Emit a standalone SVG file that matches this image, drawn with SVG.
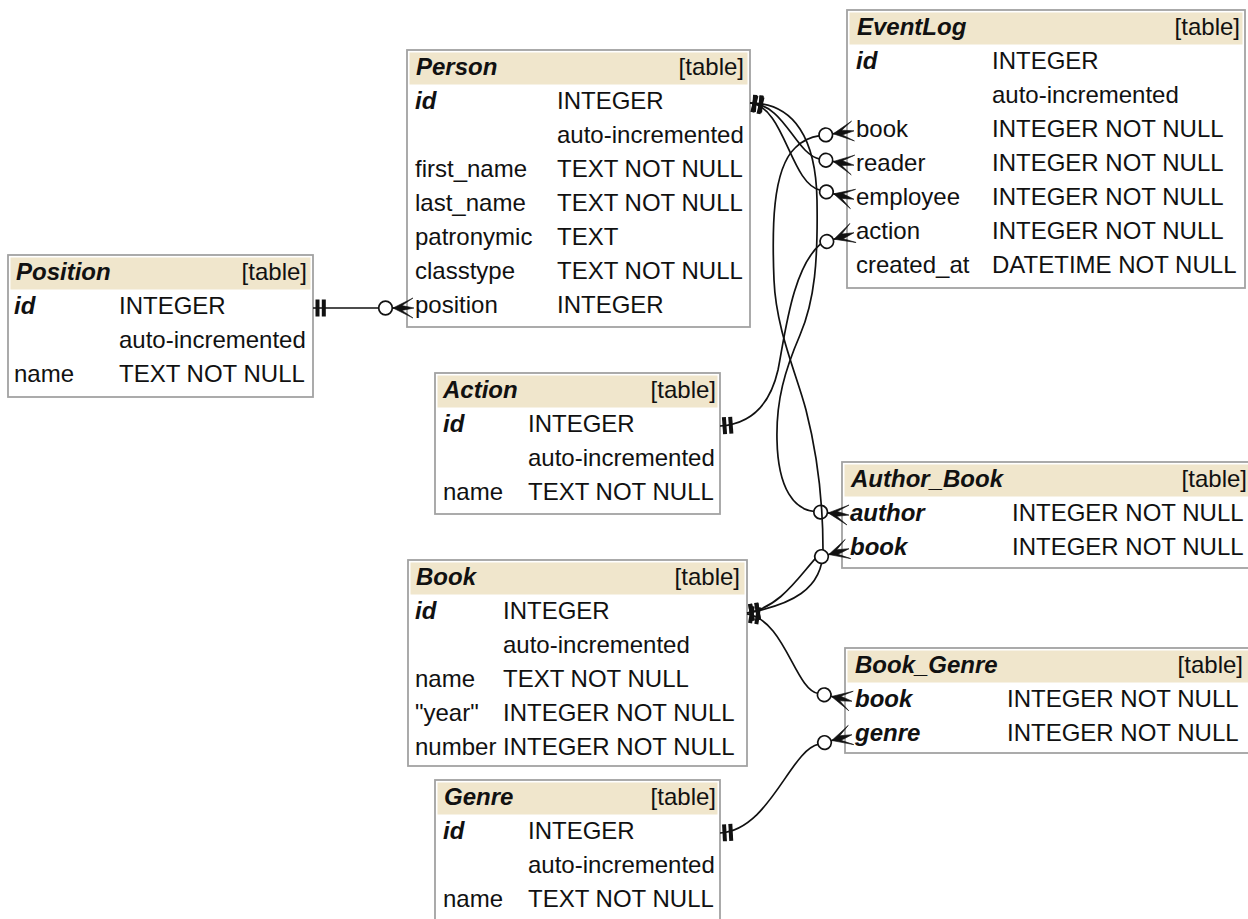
<svg xmlns="http://www.w3.org/2000/svg" xmlns:xlink="http://www.w3.org/1999/xlink" width="1248" height="919" viewBox="0 0 1248 919">
  <style>
    .box { fill: #ffffff; stroke: #a2a2a2; stroke-width: 1.8; }
    .hdr { fill: #f0e6cc; }
    .t { font-family: "Liberation Sans", Arial, Helvetica, sans-serif; font-size: 24px; fill: #111111; }
    .k { font-weight: bold; font-style: italic; }
    .r { text-anchor: end; }
    .edge { fill: none; stroke: #111111; stroke-width: 1.7; }
  </style>
  <defs>
    <!-- zero-or-many end: open circle plus crow's foot, tip at origin pointing +x -->
    <g id="crow">
      <line x1="-21" y1="0" x2="-16" y2="0" stroke="#111111" stroke-width="1.7"/>
      <polygon points="-20,0 0,-10 -11,-2.4 1,0 -11,2.4 0,10" fill="#111111" stroke="#111111" stroke-width="0.6" stroke-linejoin="miter"/>
      <circle cx="-27.5" cy="0" r="6.8" fill="#ffffff" stroke="#111111" stroke-width="1.7"/>
    </g>
    <!-- exactly-one end: two bars just outside the table edge -->
    <g id="tee" fill="#111111">
      <rect x="2.5" y="-8.5" width="4" height="17"/>
      <rect x="8.8" y="-8.5" width="4" height="17"/>
    </g>
  </defs>

  <rect width="1248" height="919" fill="#ffffff"/>

  <!-- Person -->
  <g id="person">
    <rect class="box" x="407" y="50" width="343" height="277"/>
    <rect class="hdr" x="409.5" y="52.5" width="338" height="32"/>
    <text class="t k" x="416" y="75">Person</text>
    <text class="t r" x="744" y="75">[table]</text>
    <text class="t k" x="415" y="109">id</text><text class="t" x="557" y="109">INTEGER</text>
    <text class="t" x="557" y="143">auto-incremented</text>
    <text class="t" x="415" y="177">first_name</text><text class="t" x="557" y="177">TEXT NOT NULL</text>
    <text class="t" x="415" y="211">last_name</text><text class="t" x="557" y="211">TEXT NOT NULL</text>
    <text class="t" x="415" y="245">patronymic</text><text class="t" x="557" y="245">TEXT</text>
    <text class="t" x="415" y="279">classtype</text><text class="t" x="557" y="279">TEXT NOT NULL</text>
    <text class="t" x="415" y="313">position</text><text class="t" x="557" y="313">INTEGER</text>
  </g>

  <!-- EventLog -->
  <g id="eventlog">
    <rect class="box" x="847" y="10" width="398" height="278"/>
    <rect class="hdr" x="849.5" y="12.5" width="393" height="32"/>
    <text class="t k" x="857" y="35">EventLog</text>
    <text class="t r" x="1240" y="35">[table]</text>
    <text class="t k" x="856" y="69">id</text><text class="t" x="992" y="69">INTEGER</text>
    <text class="t" x="992" y="103">auto-incremented</text>
    <text class="t" x="856" y="137">book</text><text class="t" x="992" y="137">INTEGER NOT NULL</text>
    <text class="t" x="856" y="171">reader</text><text class="t" x="992" y="171">INTEGER NOT NULL</text>
    <text class="t" x="856" y="205">employee</text><text class="t" x="992" y="205">INTEGER NOT NULL</text>
    <text class="t" x="856" y="239">action</text><text class="t" x="992" y="239">INTEGER NOT NULL</text>
    <text class="t" x="856" y="273">created_at</text><text class="t" x="992" y="273">DATETIME NOT NULL</text>
  </g>

  <!-- Position -->
  <g id="position">
    <rect class="box" x="8" y="255" width="305" height="142"/>
    <rect class="hdr" x="10.5" y="257.5" width="300" height="32"/>
    <text class="t k" x="16" y="280">Position</text>
    <text class="t r" x="307" y="280">[table]</text>
    <text class="t k" x="14" y="314">id</text><text class="t" x="119" y="314">INTEGER</text>
    <text class="t" x="119" y="348">auto-incremented</text>
    <text class="t" x="14" y="382">name</text><text class="t" x="119" y="382">TEXT NOT NULL</text>
  </g>

  <!-- Action -->
  <g id="action">
    <rect class="box" x="435" y="373" width="285" height="141"/>
    <rect class="hdr" x="437.5" y="375.5" width="280" height="32"/>
    <text class="t k" x="443" y="398">Action</text>
    <text class="t r" x="716" y="398">[table]</text>
    <text class="t k" x="443" y="432">id</text><text class="t" x="528" y="432">INTEGER</text>
    <text class="t" x="528" y="466">auto-incremented</text>
    <text class="t" x="443" y="500">name</text><text class="t" x="528" y="500">TEXT NOT NULL</text>
  </g>

  <!-- Book -->
  <g id="book">
    <rect class="box" x="408" y="560" width="339" height="206"/>
    <rect class="hdr" x="410.5" y="562.5" width="334" height="32"/>
    <text class="t k" x="416" y="585">Book</text>
    <text class="t r" x="740" y="585">[table]</text>
    <text class="t k" x="415" y="619">id</text><text class="t" x="503" y="619">INTEGER</text>
    <text class="t" x="503" y="653">auto-incremented</text>
    <text class="t" x="415" y="687">name</text><text class="t" x="503" y="687">TEXT NOT NULL</text>
    <text class="t" x="415" y="721">"year"</text><text class="t" x="503" y="721">INTEGER NOT NULL</text>
    <text class="t" x="415" y="755">number</text><text class="t" x="503" y="755">INTEGER NOT NULL</text>
  </g>

  <!-- Genre (runs past the lower edge) -->
  <g id="genre">
    <rect class="box" x="435" y="780" width="285" height="160"/>
    <rect class="hdr" x="437.5" y="782.5" width="280" height="32"/>
    <text class="t k" x="444" y="805">Genre</text>
    <text class="t r" x="716" y="805">[table]</text>
    <text class="t k" x="443" y="839">id</text><text class="t" x="528" y="839">INTEGER</text>
    <text class="t" x="528" y="873">auto-incremented</text>
    <text class="t" x="443" y="907">name</text><text class="t" x="528" y="907">TEXT NOT NULL</text>
  </g>

  <!-- Author_Book (runs past the right edge) -->
  <g id="author_book">
    <rect class="box" x="842" y="462" width="412" height="106"/>
    <rect class="hdr" x="844.5" y="464.5" width="410" height="32"/>
    <text class="t k" x="851" y="487">Author_Book</text>
    <text class="t r" x="1247" y="487">[table]</text>
    <text class="t k" x="850" y="521">author</text><text class="t" x="1012" y="521">INTEGER NOT NULL</text>
    <text class="t k" x="850" y="555">book</text><text class="t" x="1012" y="555">INTEGER NOT NULL</text>
  </g>

  <!-- Book_Genre (runs past the right edge) -->
  <g id="book_genre">
    <rect class="box" x="845" y="648" width="409" height="105"/>
    <rect class="hdr" x="847.5" y="650.5" width="407" height="32"/>
    <text class="t k" x="855" y="673">Book_Genre</text>
    <text class="t r" x="1243" y="673">[table]</text>
    <text class="t k" x="855" y="707">book</text><text class="t" x="1007" y="707">INTEGER NOT NULL</text>
    <text class="t k" x="855" y="741">genre</text><text class="t" x="1007" y="741">INTEGER NOT NULL</text>
  </g>

  <!-- Foreign-key connectors -->
  <g id="connectors">
    <!-- Person.position -> Position.id -->
    <path class="edge" d="M313,308 L379.5,308"/>
    <use xlink:href="#tee" transform="translate(313,308)"/>
    <use xlink:href="#crow" transform="translate(413,308)"/>

    <!-- EventLog.reader -> Person.id -->
    <path class="edge" d="M750,103 C785,104 795,154 820,159.2"/>
    <use xlink:href="#tee" transform="translate(750,103) rotate(8)"/>
    <use xlink:href="#crow" transform="translate(853,165) rotate(10)"/>

    <!-- EventLog.employee -> Person.id -->
    <path class="edge" d="M750,103 C785,106 790,184 820.6,190.3"/>
    <use xlink:href="#tee" transform="translate(750,103) rotate(14)"/>
    <use xlink:href="#crow" transform="translate(853,199) rotate(15)"/>

    <!-- Author_Book.author -> Person.id -->
    <path class="edge" d="M750,103 C795,103 816,140 817,200 C818,260 815,300 800,335 C785,370 776,400 777,440 C778,490 795,510 814.7,511.5"/>
    <use xlink:href="#tee" transform="translate(750,103) rotate(4)"/>
    <use xlink:href="#crow" transform="translate(848,515) rotate(6)"/>

    <!-- EventLog.book -> Book.id -->
    <path class="edge" d="M747,613 C790,605 823,590 823,550 C823,490 815,445 806,410 C797,375 776,330 774,280 C772,230 772,170 795,148 C803,140 810,137 819.8,135.7"/>
    <use xlink:href="#tee" transform="translate(747,613) rotate(-10)"/>
    <use xlink:href="#crow" transform="translate(853,131) rotate(-8)"/>

    <!-- EventLog.action -> Action.id -->
    <path class="edge" d="M720,426 C750,424 770,405 778,370 C785,335 792,268 821.1,243.4"/>
    <use xlink:href="#tee" transform="translate(720,426) rotate(-4)"/>
    <use xlink:href="#crow" transform="translate(853,233) rotate(-18)"/>

    <!-- Author_Book.book -> Book.id -->
    <path class="edge" d="M747,613 C780,608 800,575 815.8,558.2"/>
    <use xlink:href="#tee" transform="translate(747,613) rotate(-8)"/>
    <use xlink:href="#crow" transform="translate(848,549) rotate(-16)"/>

    <!-- Book_Genre.book -> Book.id -->
    <path class="edge" d="M747,614 C785,620 795,690 818.4,693.5"/>
    <use xlink:href="#tee" transform="translate(747,614) rotate(9)"/>
    <use xlink:href="#crow" transform="translate(851,701) rotate(13)"/>

    <!-- Book_Genre.genre -> Genre.id -->
    <path class="edge" d="M720,833 C770,830 790,750 818.8,744.2"/>
    <use xlink:href="#tee" transform="translate(720,833) rotate(-3)"/>
    <use xlink:href="#crow" transform="translate(851,735) rotate(-16)"/>
  </g>
</svg>
